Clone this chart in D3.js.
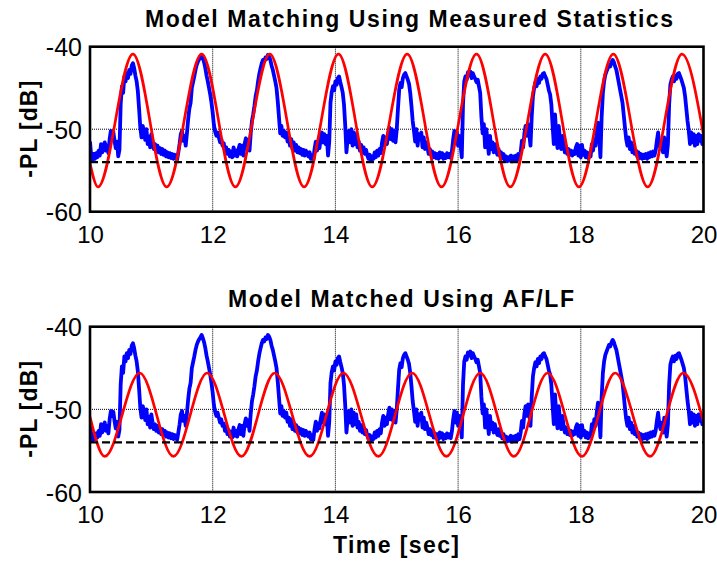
<!DOCTYPE html>
<html>
<head>
<meta charset="utf-8">
<script src="https://cdn.jsdelivr.net/npm/d3@7"></script>
<style>
  html, body { margin: 0; padding: 0; background: #fff; }
  svg { display: block; }
</style>
</head>
<body>
<svg id="chart" width="717" height="563"></svg>
<script>
// ---------------- DATA ----------------
const panelTitles = ["Model Matching Using Measured Statistics", "Model Matched Using AF/LF"];
const xTicks = [10, 12, 14, 16, 18, 20];
const yTicks = [-60, -50, -40];
const xLabel = "Time [sec]";
const yLabel = "-PL [dB]";
const noiseFloor = -54;

// measured -PL [dB], sampled every 0.02 s from t = 10.00 to 20.00
const measuredStart = 10.0;
const measuredStep = 0.02;
const measuredDb = [
-51.5,-53.2,-53.8,-53.0,-53.6,-52.9,-53.4,-52.6,-53.2,-51.8,-52.8,-52.0,-51.6,-52.6,-52.0,-52.9,-51.2,-50.2,-50.8,-50.3,
-51.4,-52.3,-51.5,-53.3,-52.5,-47.0,-44.8,-45.6,-43.6,-44.2,-43.2,-43.8,-42.8,-43.3,-42.3,-42.0,-42.6,-43.5,-44.2,-45.4,
-47.5,-49.8,-51.0,-49.6,-50.2,-51.3,-50.0,-51.8,-50.9,-52.2,-50.6,-51.6,-52.4,-51.8,-52.6,-52.0,-52.8,-52.3,-53.0,-52.4,
-53.1,-52.6,-53.3,-52.8,-53.4,-52.9,-53.5,-53.0,-53.6,-53.1,-53.4,-53.7,-52.8,-51.8,-50.6,-50.2,-51.4,-50.8,-52.0,-50.5,
-48.8,-47.5,-46.8,-45.0,-44.3,-43.6,-42.8,-42.2,-41.8,-41.5,-41.3,-41.0,-41.4,-41.9,-42.6,-43.5,-44.2,-45.0,-45.8,-46.8,
-48.0,-49.5,-50.3,-50.8,-50.4,-51.0,-51.6,-51.2,-52.0,-51.7,-52.6,-52.2,-53.0,-52.5,-53.3,-52.7,-53.4,-52.2,-53.2,-52.6,
-53.3,-52.4,-51.9,-53.0,-52.0,-53.2,-51.8,-51.1,-52.0,-51.3,-52.6,-50.5,-49.0,-48.2,-47.2,-46.0,-45.3,-44.2,-43.3,-42.6,
-42.0,-41.6,-41.8,-41.3,-41.5,-41.0,-41.2,-41.6,-42.3,-42.8,-43.5,-44.2,-45.0,-46.6,-48.5,-50.5,-49.6,-50.8,-50.2,-51.0,
-50.4,-51.5,-51.0,-52.0,-51.2,-52.4,-51.6,-52.6,-51.9,-52.8,-52.2,-52.9,-52.4,-53.1,-52.5,-53.2,-52.6,-53.0,-53.3,-52.8,
-53.6,-53.2,-53.7,-52.4,-51.5,-52.6,-51.7,-52.3,-51.2,-50.4,-51.6,-50.6,-51.8,-50.8,-53.2,-51.5,-46.8,-45.5,-44.8,-45.3,
-44.2,-44.6,-43.8,-43.6,-44.3,-44.9,-45.6,-47.0,-49.5,-52.8,-51.0,-50.2,-51.6,-50.0,-52.0,-50.4,-51.8,-50.6,-52.2,-51.5,
-52.6,-51.9,-52.8,-52.2,-53.0,-52.5,-53.2,-53.6,-53.1,-53.8,-53.3,-53.6,-52.8,-53.4,-52.6,-53.2,-52.4,-52.9,-51.6,-50.8,
-52.0,-51.0,-51.8,-50.6,-49.8,-51.2,-50.0,-51.4,-50.2,-51.6,-50.0,-47.5,-45.2,-44.4,-44.9,-43.8,-43.4,-43.2,-43.6,-44.0,
-44.5,-45.6,-47.2,-49.0,-50.2,-51.5,-50.0,-52.0,-50.6,-51.2,-50.4,-52.2,-51.0,-52.4,-51.6,-52.2,-53.0,-52.4,-53.1,-52.7,
-53.4,-52.9,-53.5,-53.0,-53.6,-52.8,-53.4,-52.9,-53.6,-53.1,-53.5,-52.9,-53.4,-53.0,-53.5,-52.6,-51.2,-50.2,-51.6,-50.4,
-52.0,-50.8,-51.9,-53.4,-47.0,-44.2,-43.6,-44.0,-43.1,-43.5,-43.0,-43.8,-43.2,-43.6,-43.9,-44.3,-44.0,-44.8,-45.6,-48.5,
-50.5,-49.4,-52.2,-50.0,-51.4,-53.0,-50.8,-52.4,-51.6,-52.8,-51.8,-52.6,-53.1,-52.4,-53.2,-52.8,-53.5,-53.0,-53.8,-53.3,
-53.9,-53.4,-53.8,-53.2,-53.9,-53.3,-53.7,-53.2,-53.8,-53.0,-53.6,-52.8,-51.4,-52.2,-50.6,-49.6,-50.8,-49.4,-50.6,-52.0,
-48.5,-46.0,-45.0,-44.3,-44.8,-43.9,-44.4,-43.6,-43.9,-43.3,-43.2,-43.6,-43.9,-44.6,-45.3,-45.8,-47.0,-49.5,-51.8,-48.2,
-50.6,-52.3,-49.6,-51.2,-52.4,-50.8,-52.0,-52.8,-52.2,-53.0,-52.4,-53.1,-52.6,-53.2,-52.7,-53.0,-52.2,-51.8,-53.2,-52.0,
-53.4,-51.9,-53.1,-52.6,-53.4,-52.8,-53.5,-52.9,-53.3,-51.8,-52.6,-51.2,-52.0,-50.4,-49.2,-51.0,-53.4,-48.5,-45.6,-44.2,
-43.4,-43.0,-42.6,-42.2,-42.4,-41.9,-41.6,-41.9,-42.4,-42.8,-43.6,-44.4,-45.2,-46.0,-46.8,-48.3,-49.8,-51.2,-52.0,-51.0,
-52.4,-51.6,-52.8,-52.0,-53.0,-52.6,-53.3,-52.8,-53.5,-53.0,-53.6,-53.1,-53.5,-53.0,-53.6,-52.9,-53.4,-52.8,-53.3,-52.7,
-53.2,-52.6,-51.4,-50.4,-51.8,-52.4,-51.6,-52.8,-51.0,-52.2,-53.3,-51.8,-47.0,-44.6,-44.0,-43.6,-44.2,-43.5,-43.9,-43.3,
-43.2,-43.6,-44.0,-44.5,-45.0,-46.0,-47.5,-49.0,-50.2,-51.8,-50.4,-51.6,-50.6,-52.0,-50.8,-51.8,-50.6,-51.4,-50.8,-51.8,
-51.2
];

// model curve (top): turning points
const modelTopTime = [10.00, 10.13, 10.70, 11.25, 11.82, 12.37, 12.93, 13.49, 14.05, 14.60, 15.17, 15.73, 16.30, 16.85, 17.42, 17.97, 18.53, 19.09, 19.65, 20.00];
const modelTopDb   = [-54.1, -57.0, -40.9, -57.0, -40.9, -57.0, -40.9, -57.0, -40.9, -57.0, -40.9, -57.0, -40.9, -57.0, -40.9, -57.0, -40.9, -57.0, -40.9, -50.7];

// model curve (bottom, AF/LF matched)
const modelBotTime = [10.00, 10.24, 10.81, 11.36, 11.91, 12.47, 13.01, 13.58, 14.13, 14.70, 15.25, 15.81, 16.36, 16.91, 17.46, 18.02, 18.56, 19.13, 19.67, 20.00];
const modelBotDb   = [-50.9, -55.7, -45.6, -55.7, -45.6, -55.7, -45.6, -55.7, -45.6, -55.7, -45.6, -55.7, -45.6, -55.7, -45.6, -55.7, -45.6, -55.7, -45.6, -51.5];

// ---------------- DRAW ----------------
const svg = d3.select("#chart");
svg.append("rect").attr("width", 717).attr("height", 563).attr("fill", "#fff");

const measured = measuredDb.map((v, i) => ({ t: measuredStart + i * measuredStep, v }));
const models = [
  modelTopTime.map((t, i) => ({ t, v: modelTopDb[i] })),
  modelBotTime.map((t, i) => ({ t, v: modelBotDb[i] }))
];

const FONT = "Liberation Sans, Arial, sans-serif";
const left = 90, right = 703.5;
const panels = [
  { top: 46.7, bottom: 211.7, titleY: 27, title: panelTitles[0], titleX: 409, titleLen: 528 },
  { top: 326.7, bottom: 492, titleY: 307, title: panelTitles[1], titleX: 401, titleLen: 346 }
];

panels.forEach((p, k) => {
  const x = d3.scaleLinear().domain([10, 20]).range([left, right]);
  const y = d3.scaleLinear().domain([-60, -40]).range([p.bottom, p.top]);
  const g = svg.append("g");
  const clipId = "clip" + k;
  svg.append("clipPath").attr("id", clipId)
    .append("rect").attr("x", left).attr("y", p.top).attr("width", right - left).attr("height", p.bottom - p.top);

  // grid
  const grid = g.append("g");
  xTicks.slice(1, -1).forEach(t => {
    grid.append("line").attr("x1", x(t)).attr("x2", x(t)).attr("y1", p.top).attr("y2", p.bottom)
      .attr("stroke", "#000").attr("stroke-width", 1).attr("stroke-dasharray", "1,1");
  });
  yTicks.slice(1, -1).forEach(v => {
    grid.append("line").attr("x1", left).attr("x2", right).attr("y1", y(v)).attr("y2", y(v))
      .attr("stroke", "#000").attr("stroke-width", 1).attr("stroke-dasharray", "1,1");
  });

  const plot = g.append("g").attr("clip-path", `url(#${clipId})`);
  const line = d3.line().x(d => x(d.t)).y(d => y(d.v));

  plot.append("path").datum(measured)
    .attr("d", line)
    .attr("fill", "none").attr("stroke", "#0000ff").attr("stroke-width", 3.8)
    .attr("stroke-linejoin", "round");

  plot.append("path").datum(models[k])
    .attr("d", line.curve(d3.curveMonotoneX))
    .attr("fill", "none").attr("stroke", "#ff0000").attr("stroke-width", 2.7);

  plot.append("line").attr("x1", left).attr("x2", right).attr("y1", y(noiseFloor)).attr("y2", y(noiseFloor))
    .attr("stroke", "#000").attr("stroke-width", 2.2).attr("stroke-dasharray", "8,4");

  // axes (labels only; box drawn separately)
  const xAxis = d3.axisBottom(x).tickValues(xTicks).tickSize(0).tickPadding(0).tickFormat(d => String(d));
  const ax = g.append("g").attr("transform", `translate(0,${p.bottom})`).call(xAxis);
  ax.select(".domain").remove();
  ax.selectAll("text").attr("dy", null).attr("y", 31).attr("font-family", FONT)
    .attr("font-size", 24).attr("fill", "#000");

  const yAxis = d3.axisLeft(y).tickValues(yTicks).tickSize(0).tickPadding(0).tickFormat(d => String(d));
  const ay = g.append("g").attr("transform", `translate(${left},0)`).call(yAxis);
  ay.select(".domain").remove();
  ay.selectAll("text").attr("x", -8).attr("dy", "0.36em").attr("font-family", FONT)
    .attr("font-size", 25).attr("fill", "#000");

  // box
  g.append("rect").attr("x", left).attr("y", p.top).attr("width", right - left).attr("height", p.bottom - p.top)
    .attr("fill", "none").attr("stroke", "#000").attr("stroke-width", 2.6);

  // title
  g.append("text").attr("x", p.titleX).attr("y", p.titleY).attr("text-anchor", "middle")
    .attr("font-family", FONT).attr("font-weight", "bold").attr("font-size", 23)
    .attr("textLength", p.titleLen).attr("lengthAdjust", "spacing")
    .text(p.title);

  // y label
  g.append("text").attr("transform", `translate(37,${(p.top + p.bottom) / 2}) rotate(-90)`)
    .attr("text-anchor", "middle")
    .attr("font-family", FONT).attr("font-weight", "bold").attr("font-size", 23)
    .attr("textLength", 97).attr("lengthAdjust", "spacing")
    .text(yLabel);
});

svg.append("text").attr("x", 396).attr("y", 553).attr("text-anchor", "middle")
  .attr("font-family", FONT).attr("font-weight", "bold").attr("font-size", 23)
  .attr("textLength", 126).attr("lengthAdjust", "spacing")
  .text(xLabel);
</script>
</body>
</html>
